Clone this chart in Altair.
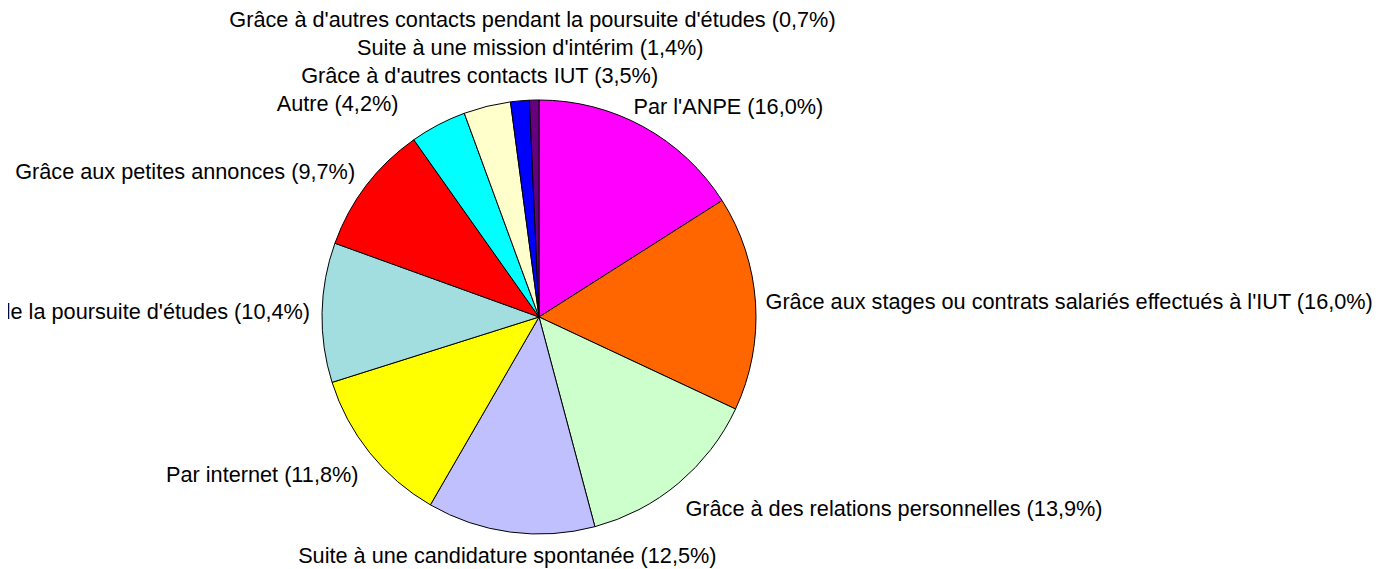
import altair as alt
import pandas as pd
import numpy as np

categories = [
    "Par l'ANPE",
    "Grâce aux stages ou contrats salariés effectués à l'IUT",
    "Grâce à des relations personnelles",
    "Suite à une candidature spontanée",
    "Par internet",
    "Grâce aux contacts lors de la poursuite d'études",
    "Grâce aux petites annonces",
    "Autre",
    "Grâce à d'autres contacts IUT",
    "Suite à une mission d'intérim",
    "Grâce à d'autres contacts pendant la poursuite d'études",
]
values = [16.0, 16.0, 13.9, 12.5, 11.8, 10.4, 9.7, 4.2, 3.5, 1.4, 0.7]
colors = ["#FF00FF", "#FF6600", "#CCFFCC", "#C0C0FF", "#FFFF00", "#A2DEE0",
          "#FF0000", "#00FFFF", "#FFFFCC", "#0000FF", "#660080"]

total = float(sum(values))
df = pd.DataFrame({"cat": categories, "val": values})
df["order"] = range(len(df))
df["label"] = [f"{c} ({v:.1f}%)".replace(".", ",") for c, v in zip(categories, values)]
df["end"] = np.cumsum(values)
df["start"] = df["end"] - df["val"]
df["mid"] = (df["start"] + df["end"]) / 2

# label layout (alignment, label radius in px, horizontal nudge in px)
label_layout = [
    ("left", 240, -21),
    ("left", 227, 0),
    ("left", 250, -14),
    ("center", 241, 0),
    ("right", 252, 16),
    ("right", 229, 0),
    ("right", 240, 7),
    ("right", 240, -29),
    ("center", 248, 0),
    ("center", 270, 15),
    ("center", 297, 0),
]
df["lr"] = [l[1] for l in label_layout]

CX, CY = 531, 309
FONT = "Liberation Sans"
tscale = alt.Scale(domain=[0, total], range=[0, 2 * np.pi])

base = alt.Chart(df)

pie = base.mark_arc(stroke="black", strokeWidth=1, radius=217).encode(
    theta=alt.Theta("start:Q", scale=tscale),
    theta2="end:Q",
    color=alt.Color("cat:N", scale=alt.Scale(domain=categories, range=colors), legend=None),
    x=alt.value(CX),
    y=alt.value(CY),
)

layers = [pie]
for i, (al, r, dx) in enumerate(label_layout):
    t = base.transform_filter(alt.datum.order == i).mark_text(
        align=al, baseline="middle", fontSize=21.7, font=FONT, color="black", dx=dx
    ).encode(
        theta=alt.Theta("mid:Q", scale=tscale, stack=None),
        radius=alt.Radius("lr:Q", scale=None),
        text="label:N",
        x=alt.value(CX),
        y=alt.value(CY),
    )
    layers.append(t)

chart = alt.layer(*layers).properties(
    width=1372, height=561,
    autosize=alt.AutoSizeParams(type="none"),
    padding=0,
).configure_view(stroke=None)

chart.save("out.html", embed_options={"renderer": "svg", "actions": False})
